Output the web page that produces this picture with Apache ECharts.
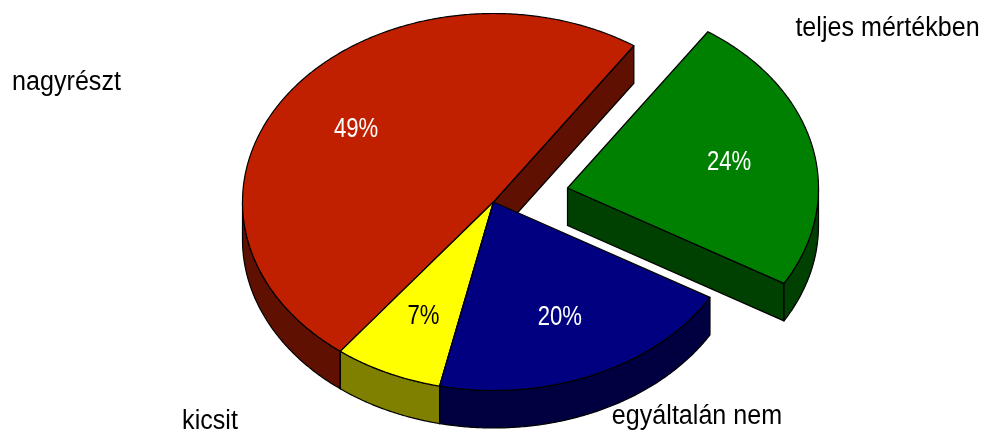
<!DOCTYPE html>
<html>
<head>
<meta charset="utf-8">
<style>
  html, body { margin: 0; padding: 0; background: #fff; }
  #chart { width: 982px; height: 432px; }
</style>
</head>
<body>
<div id="chart"></div>
<script src="https://cdn.jsdelivr.net/npm/echarts@6/dist/echarts.min.js"></script>
<script>
// order runs counter-clockwise from the red slice's straight edge
const categories = ['nagyrészt', 'kicsit', 'egyáltalán nem', 'teljes mértékben']
const percents = [49, 7, 20, 24]

const topColors = ['#c02000', '#ffff00', '#000080', '#008000']
const sideColors = ['#601000', '#808000', '#000040', '#004000']
const percentColors = ['#fff', '#000', '#fff', '#fff']
const namePositions = [[66.5, 83], [210, 422], [697, 417], [887.5, 29]]
const explode = [[0, 0], [0, 0], [0, 0], [74, -14]]
const labelRadius = [0.675, 0.66, 0.66, 0.66]

const cx = 493.5
const cy = 202
const rx = 251
const ry = 188.5
const depth = 37.5
const startAngle = 34 // degrees clockwise from the top
const fontFamily = '"Liberation Sans", Arial, sans-serif'

const total = percents.reduce((a, b) => a + b, 0)

function rimPoint(ox, oy, deg, drop) {
  const a = deg * Math.PI / 180
  return [ox + rx * Math.sin(a), oy - ry * Math.cos(a) + drop]
}

function arcPoints(ox, oy, from, to, drop) {
  const pts = []
  const steps = Math.max(2, Math.ceil(Math.abs(to - from) * 2))
  for (let i = 0; i <= steps; i++) {
    pts.push(rimPoint(ox, oy, from + (to - from) * i / steps, drop))
  }
  return pts
}

function face(points, fill) {
  return {
    type: 'polygon',
    shape: { points: points },
    style: { fill: fill, stroke: '#000', lineWidth: 1.2, lineJoin: 'round' }
  }
}

function renderSlice(params, api) {
  const i = params.dataIndex
  const before = percents.slice(0, i).reduce((a, b) => a + b, 0)
  const a0 = startAngle - before / total * 360 // clockwise end of the slice
  const a1 = a0 - percents[i] / total * 360
  const ox = cx + explode[i][0]
  const oy = cy + explode[i][1]
  const children = []

  // cut face under the edge from centre to rim, only the first edge faces the viewer
  const edge = rimPoint(ox, oy, a0, 0)
  const edgeLow = rimPoint(ox, oy, a0, depth)
  children.push(face([[ox, oy], edge, edgeLow, [ox, oy + depth]], sideColors[i]))

  // outer wall, only where the rim is on the front half
  for (let k = -2; k <= 1; k++) {
    const lo = Math.max(a1, 90 + k * 360)
    const hi = Math.min(a0, 270 + k * 360)
    if (lo < hi) {
      const upper = arcPoints(ox, oy, lo, hi, 0)
      const lower = arcPoints(ox, oy, hi, lo, depth)
      children.push(face(upper.concat(lower), sideColors[i]))
    }
  }

  children.push(face([[ox, oy]].concat(arcPoints(ox, oy, a0, a1, 0)), topColors[i]))

  const mid = (a0 + a1) / 2 * Math.PI / 180
  children.push({
    type: 'text',
    x: ox + rx * labelRadius[i] * Math.sin(mid),
    y: oy - ry * labelRadius[i] * Math.cos(mid) + 1.5,
    scaleX: 0.79,
    style: {
      text: api.value(0) + '%',
      fill: percentColors[i],
      font: '28px ' + fontFamily,
      align: 'center',
      verticalAlign: 'middle'
    }
  })
  return { type: 'group', children: children }
}

const chart = echarts.init(document.getElementById('chart'), null, { renderer: 'canvas' })
chart.setOption({
  animation: false,
  backgroundColor: '#fff',
  graphic: categories.map((name, i) => ({
    type: 'text',
    x: namePositions[i][0],
    y: namePositions[i][1],
    scaleX: 0.93,
    style: {
      text: name,
      fill: '#000',
      font: '27px ' + fontFamily,
      align: 'center',
      verticalAlign: 'middle'
    }
  })),
  series: [
    {
      type: 'custom',
      coordinateSystem: 'none',
      silent: true,
      renderItem: renderSlice,
      data: percents.map((v) => [v])
    }
  ]
})
window.onresize = chart.resize
</script>
</body>
</html>
